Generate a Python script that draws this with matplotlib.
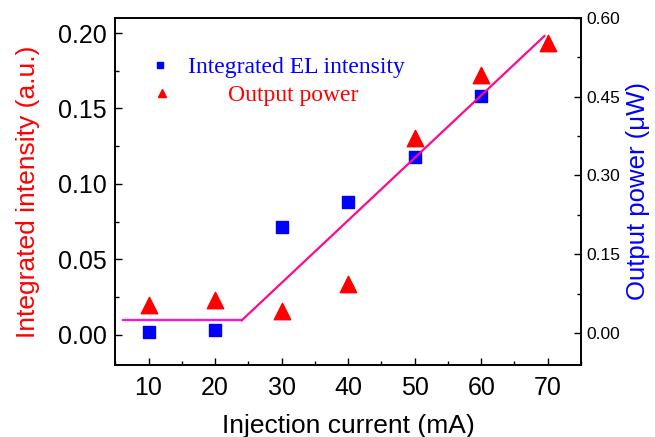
"""Integrated EL intensity and output power versus injection current."""

import matplotlib

matplotlib.use("Agg")

import matplotlib.pyplot as plt
from matplotlib.lines import Line2D
from matplotlib.ticker import MultipleLocator

plt.rcParams["font.family"] = ["Liberation Sans", "DejaVu Sans"]

# measured points
current_ma = [10, 20, 30, 40, 50, 60, 70]
el_current = [10, 20, 30, 40, 50, 60]
el_intensity = [0.002, 0.003, 0.0715, 0.088, 0.118, 0.158]
power_uw = [0.053, 0.063, 0.042, 0.093, 0.371, 0.491, 0.552]

# piecewise guide line (threshold fit), in integrated-intensity units
flat_x = [6.2, 24.0]
flat_y = [0.0095, 0.0095]
slope_x = [24.0, 69.5]
slope_y = [0.0095, 0.198]

BLUE = "#0000FF"
RED = "#FF0000"

fig, ax = plt.subplots(figsize=(6.55, 4.37), dpi=100)
fig.subplots_adjust(left=0.176, right=0.887, top=0.959, bottom=0.165)
ax2 = ax.twinx()

ax.scatter(el_current, el_intensity, marker="s", s=85, color=BLUE, zorder=3)
ax.plot(flat_x, flat_y, color="#FF10E8", linewidth=1.6, zorder=4)
ax.plot(slope_x, slope_y, color="#FF0A8C", linewidth=1.6, zorder=4)
ax2.scatter(current_ma, power_uw, marker="^", s=140, color=RED, zorder=3)

ax.set_xlim(5, 75)
ax.set_ylim(-0.02, 0.21)
ax2.set_ylim(-0.061, 0.60)

ax.xaxis.set_major_locator(MultipleLocator(10))
ax.xaxis.set_minor_locator(MultipleLocator(5))
ax.yaxis.set_major_locator(MultipleLocator(0.05))
ax.yaxis.set_minor_locator(MultipleLocator(0.025))
ax2.yaxis.set_major_locator(MultipleLocator(0.15))
ax2.yaxis.set_minor_locator(MultipleLocator(0.075))
ax.yaxis.set_major_formatter(lambda v, _: f"{v:.2f}")
ax2.yaxis.set_major_formatter(lambda v, _: f"{v:.2f}")

ax.tick_params(which="both", direction="in", width=1, labelsize=18, pad=6)
ax.tick_params(axis="x", pad=8)
ax.tick_params(which="major", length=5)
ax.tick_params(which="minor", length=3)
ax.tick_params(axis="y", which="both", right=False)
ax2.tick_params(which="both", direction="in", width=1, labelsize=12.5, pad=4)
ax2.tick_params(which="major", length=5)
ax2.tick_params(which="minor", length=3)
for a in (ax, ax2):
    for spine in a.spines.values():
        spine.set_linewidth(1.2)

ax.set_xlabel("Injection current (mA)", fontsize=19, labelpad=10)
ax.set_ylabel("Integrated intensity (a.u.)", fontsize=19, color=RED, labelpad=13)
ax2.set_ylabel("Output power (\u03bcW)", fontsize=18.5, color=BLUE, labelpad=4)

serif = {"family": "Liberation Serif", "size": 17}
sq = Line2D([], [], marker="s", linestyle="none", color=BLUE, markersize=5)
tri = Line2D([], [], marker="^", linestyle="none", color=RED, markersize=6)
leg1 = ax2.legend(handles=[sq], labels=["Integrated EL intensity"], loc="center left",
                  bbox_to_anchor=(0.2298, 1 - 67 / 437), bbox_transform=fig.transFigure,
                  frameon=False, prop=serif, labelcolor=BLUE, handlelength=0.8,
                  handletextpad=0.78, borderpad=0, borderaxespad=0)
ax2.add_artist(leg1)
ax2.legend(handles=[tri], labels=["Output power"], loc="center left",
           bbox_to_anchor=(0.2329, 1 - 95 / 437), bbox_transform=fig.transFigure,
           frameon=False, prop=serif, labelcolor=RED, handlelength=0.8,
           handletextpad=2.4, borderpad=0, borderaxespad=0)

fig.savefig("out.png", dpi=100)
